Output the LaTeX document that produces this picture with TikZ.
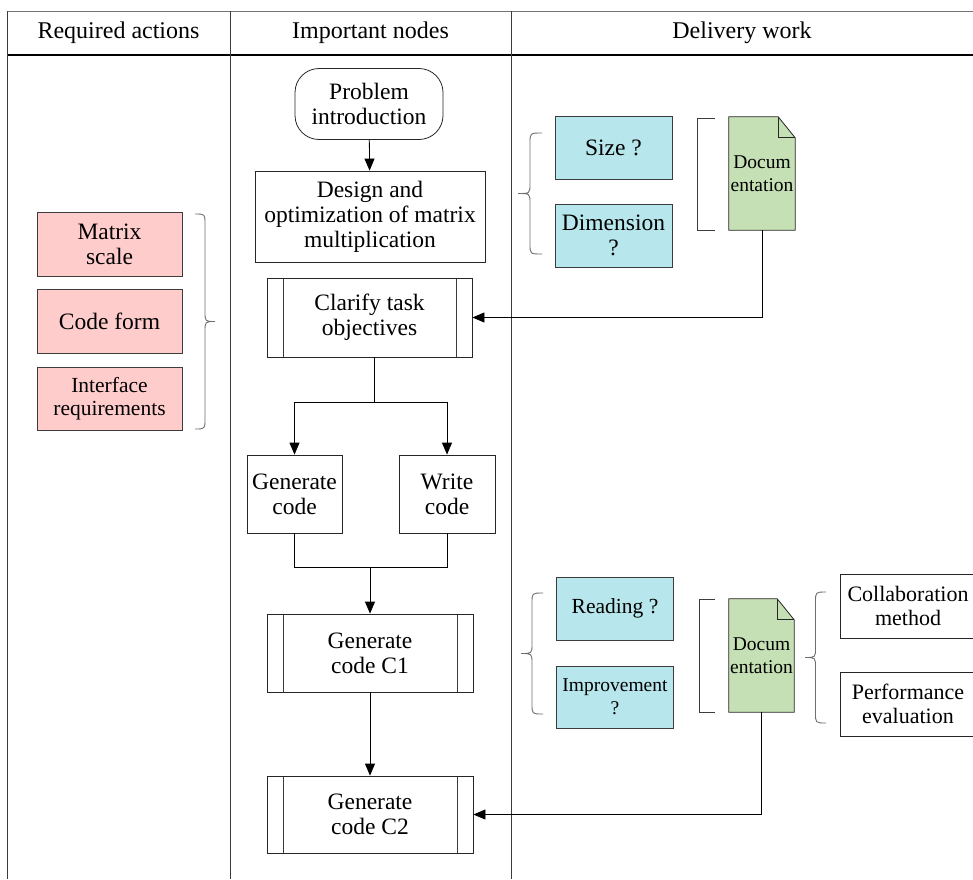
\documentclass[tikz,border=0pt]{standalone}
\usepackage{fontspec}
\setmainfont{Liberation Serif}
\newfontfamily\labelface{Liberation Serif}
\usetikzlibrary{arrows.meta,calc,backgrounds}

\definecolor{pinkfill}{RGB}{255,204,204}
\definecolor{cyanfill}{RGB}{183,231,236}
\definecolor{greenfill}{RGB}{197,224,180}
\definecolor{edgegray}{RGB}{60,60,60}
\definecolor{bracegray}{RGB}{110,110,110}

% text size helper, always in the serif face
\newcommand\lsize[2]{\labelface\fontsize{#1}{#2}\selectfont}

% curly brace: #1 x of the hooks, #2 x of the tip, #3 top y, #4 bottom y
\newcommand\curlybrace[4]{%
  \draw[bracestyle] (#1,#3) .. controls ({(#1+#2)/2},#3) .. ({(#1+#2)/2},{#3+10})
    -- ({(#1+#2)/2},{(#3+#4)/2-10}) .. controls ({(#1+#2)/2},{(#3+#4)/2}) .. (#2,{(#3+#4)/2})
    .. controls ({(#1+#2)/2},{(#3+#4)/2}) .. ({(#1+#2)/2},{(#3+#4)/2+10})
    -- ({(#1+#2)/2},{#4-10}) .. controls ({(#1+#2)/2},#4) .. (#1,#4);}

% document symbol with a folded top-right corner, drawn round a named node
\newcommand\docsymbol[1]{%
  \filldraw[fill=greenfill, draw=black!85, line width=0.8pt]
    (#1.north west) -- ($(#1.north east)+(-17,0)$) -- ($(#1.north east)+(0,21)$)
    -- (#1.south east) -- (#1.south west) -- cycle;
  \draw[black!85, line width=0.8pt] ($(#1.north east)+(-17,0)$) |- ($(#1.north east)+(0,21)$);}

\begin{document}
\begin{tikzpicture}[x=1pt,y=-1pt,
  box/.style={font=\lsize{23.5}{25}, draw=black!85, line width=0.8pt, align=center, inner sep=0pt},
  procbox/.style={box, path picture={
      \draw[edgegray, line width=0.7pt]
        ([xshift=16pt]path picture bounding box.north west) -- ([xshift=16pt]path picture bounding box.south west)
        ([xshift=-16pt]path picture bounding box.north east) -- ([xshift=-16pt]path picture bounding box.south east);}},
  actbox/.style={box, fill=pinkfill, draw=edgegray, minimum width=145pt},
  askbox/.style={box, fill=cyanfill, draw=edgegray, minimum width=117pt, minimum height=63pt},
  docnode/.style={align=center, inner sep=0pt, minimum width=66pt, minimum height=113pt,
      font=\lsize{19.5}{23}},
  header/.style={font=\lsize{24}{26}},
  arrow/.style={-{Triangle[length=12pt,width=10pt]}, black, line width=0.8pt},
  link/.style={black, line width=0.8pt},
  bracestyle/.style={bracegray, line width=0.9pt},
  bracketstyle/.style={edgegray, line width=0.9pt},
  rule/.style={edgegray, line width=0.8pt}
]
\useasboundingbox (0,0) rectangle (973,879);

% table frame and column rules
\draw[rule, black!55] (7,11) -- (973,11);
\draw[black, line width=2pt] (7,55) -- (973,55);
\draw[rule] (7,11) -- (7,879);
\draw[rule] (230,11) -- (230,879);
\draw[rule] (511,11) -- (511,879);

% column headings
\node[header] (hreq) at (118.5,33) {Required actions};
\node[header] (himp) at (370.5,33) {Important nodes};
\node[header] (hdel) at (742,33) {Delivery work};

% main flow
\node[box, rounded corners=24pt, minimum width=148pt, minimum height=71pt] (prob) at (369,104) {Problem\\introduction};
\node[box, minimum width=230pt, minimum height=91pt] (design) at (370,216.5) {Design and\\optimization of matrix\\multiplication};
\node[procbox, minimum width=205pt, minimum height=79pt] (clarify) at (369.5,317.5) {Clarify task\\objectives};
\node[box, minimum width=95pt, minimum height=78pt] (gen) at (294.5,494) {Generate\\code};
\node[box, minimum width=96pt, minimum height=78pt] (write) at (447,494) {Write\\code};
\node[procbox, minimum width=206pt, minimum height=78pt] (c1) at (370,653) {Generate\\code C1};
\node[procbox, minimum width=206pt, minimum height=77pt] (c2) at (370,814.5) {Generate\\code C2};

\coordinate (forkY) at (0,402);
\coordinate (mergeY) at (0,567);
\coordinate (cl) at ([xshift=5pt]clarify.south);

\draw[arrow] (prob) -- (design);
\draw[link] (cl) -- (cl |- forkY);
\draw[arrow] (cl |- forkY) -| (gen.north);
\draw[arrow] (cl |- forkY) -| (write.north);
\draw[link] (gen.south) |- (c1.north |- mergeY);
\draw[link] (write.south) |- (c1.north |- mergeY);
\draw[arrow] (c1.north |- mergeY) -- (c1.north);
\draw[arrow] (c1) -- (c2);

% required actions
\node[actbox, minimum height=64pt] (ms) at (109.5,244) {Matrix\\scale};
\node[actbox, minimum height=64pt] (cf) at (109.5,321) {Code form};
\node[actbox, minimum height=63pt, font=\lsize{21.5}{23.5}] (ir) at (109.5,398.5) {Interface\\requirements};
\curlybrace{195}{215}{214}{429}

% delivery work, upper group
\node[askbox] (size) at (613.5,147.5) {Size ?};
\node[askbox] (dim) at (613.5,235.5) {Dimension\\?};
\curlybrace{542}{518}{133}{254}
\draw[bracketstyle] (715,118) -- (697,118) -- (697,230) -- (715,230);
\node[docnode] (doc1) at (762,173.5) {Docum\\entation};
\begin{scope}[on background layer]
  \docsymbol{doc1}
\end{scope}
\draw[arrow] (doc1.south) |- (clarify.east);

% delivery work, lower group
\node[askbox, font=\lsize{21.5}{23.5}] (read) at (615,608.5) {Reading ?};
\node[askbox, minimum height=62pt, font=\lsize{19.5}{23}] (impr) at (615,697) {Improvement\\?};
\curlybrace{543}{521}{593}{714}
\draw[bracketstyle] (715,599) -- (699,599) -- (699,712) -- (715,712);
\node[docnode, minimum width=65pt] (doc2) at (761.5,655.5) {Docum\\entation};
\begin{scope}[on background layer]
  \docsymbol{doc2}
\end{scope}
\draw[arrow] (doc2.south) |- (c2.east);
\curlybrace{826}{805}{592}{723}
\node[box, minimum width=136pt, minimum height=64pt, font=\lsize{22}{24}] (collab) at (908,606) {Collaboration\\method};
\node[box, minimum width=136pt, minimum height=64pt, font=\lsize{22}{24}] (perf) at (908,704) {Performance\\evaluation};
\end{tikzpicture}
\end{document}
